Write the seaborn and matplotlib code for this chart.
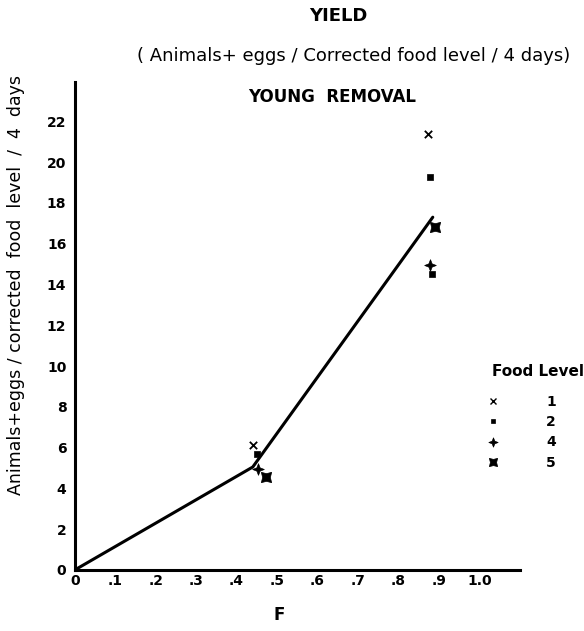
import numpy as np
import pandas as pd
import matplotlib
matplotlib.use("Agg")
import matplotlib.pyplot as plt
from matplotlib.path import Path
from matplotlib.lines import Line2D
import seaborn as sns

# ---- data ----
food_level = [1, 2, 4, 5, 1, 2, 5, 4, 2]
f_values = [0.441, 0.450, 0.453, 0.473, 0.874, 0.879, 0.891, 0.879, 0.884]
yield_values = [6.14, 5.70, 4.96, 4.57, 21.37, 19.25, 16.80, 14.95, 14.50]

fit_f = [0.0, 0.44, 0.885]
fit_yield = [0.0, 5.05, 17.3]

x_ticks = [0, 0.1, 0.2, 0.3, 0.4, 0.5, 0.6, 0.7, 0.8, 0.9, 1.0]
x_tick_labels = ["0", ".1", ".2", ".3", ".4", ".5", ".6", ".7", ".8", ".9", "1.0"]
y_ticks = [0, 2, 4, 6, 8, 10, 12, 14, 16, 18, 20, 22]
y_tick_labels = [str(v) for v in y_ticks]
legend_levels = ["1", "2", "4", "5"]

df = pd.DataFrame({"F": f_values, "Yield": yield_values,
                   "Food Level": [str(v) for v in food_level]})
fit = pd.DataFrame({"F": fit_f, "Yield": fit_yield})

# ---- markers ----
star4 = Path([(0, 1), (0.28, 0.28), (1, 0), (0.28, -0.28), (0, -1),
              (-0.28, -0.28), (-1, 0), (-0.28, 0.28), (0, 1)],
             [Path.MOVETO] + [Path.LINETO] * 7 + [Path.CLOSEPOLY])
sq_concave = Path([(1, 1), (0.75, 0), (1, -1), (0, -0.75), (-1, -1),
                   (-0.75, 0), (-1, 1), (0, 0.75), (1, 1)],
                  [Path.MOVETO] + [Path.LINETO] * 7 + [Path.CLOSEPOLY])
markers = {"1": "x", "2": "s", "4": star4, "5": sq_concave}
sizes = {"1": 28, "2": 18, "4": 70, "5": 55}

sns.set_style("white")
plt.rcParams["font.family"] = ["DejaVu Sans"]
for k in ["text.color", "axes.labelcolor", "xtick.color", "ytick.color"]:
    plt.rcParams[k] = "black"

fig = plt.figure(figsize=(5.84, 6.31), dpi=100)
ax = fig.add_axes([0.128, 0.0967, 0.762, 0.774])

sns.lineplot(data=fit, x="F", y="Yield", color="black", linewidth=2.2,
             ax=ax, legend=False)
for lvl in legend_levels:
    sub = df[df["Food Level"] == lvl]
    sns.scatterplot(data=sub, x="F", y="Yield", marker=markers[lvl],
                    s=sizes[lvl], color="black",
                    linewidth=1.3 if lvl == "1" else 0.5,
                    edgecolor="black", ax=ax, legend=False, zorder=3)

ax.set_xlim(0, 1.10)
ax.set_ylim(0, 23.95)
ax.set_xticks(x_ticks)
ax.set_xticklabels(x_tick_labels, fontsize=10, fontweight="bold")
ax.set_yticks(y_ticks)
ax.set_yticklabels(y_tick_labels, fontsize=10, fontweight="bold")
ax.tick_params(axis="x", direction="in", length=5, width=1.2, pad=3)
ax.tick_params(axis="y", direction="in", length=5, width=1.2, pad=6)
for s in ["top", "right"]:
    ax.spines[s].set_visible(False)
for s in ["left", "bottom"]:
    ax.spines[s].set_linewidth(2.2)
    ax.spines[s].set_color("black")

ax.set_xlabel("F", fontsize=12, fontweight="bold", va="center")
ax.xaxis.set_label_coords(0.46, -0.092)
ax.set_ylabel("Animals+eggs / corrected  food  level  /  4  days",
              fontsize=12.5)
ax.yaxis.set_label_coords(-0.112, 0.584)

fig.text(0.579, 0.974, "YIELD", ha="center", va="center", fontsize=13,
         fontweight="bold")
fig.text(0.605, 0.911, "( Animals+ eggs / Corrected food level / 4 days)",
         ha="center", va="center", fontsize=13)
fig.text(0.568, 0.846, "YOUNG  REMOVAL", ha="center", va="center",
         fontsize=12, fontweight="bold")

handles = [Line2D([], [], linestyle="none", marker=markers[l], color="black",
                  markersize=np.sqrt(sizes[l]) * (0.8 if l != "1" else 0.9),
                  markeredgewidth=1.0 if l == "1" else 0.5)
           for l in legend_levels]
leg = ax.legend(handles, legend_levels, loc="upper left",
                bbox_to_anchor=(0.881, 0.384), frameon=False,
                handletextpad=2.8, labelspacing=0.45, fontsize=10)
for t in leg.get_texts():
    t.set_fontweight("bold")
fig.text(0.921, 0.411, "Food Level", ha="center", va="center",
         fontsize=11, fontweight="bold")

fig.savefig("out.png", dpi=100)
